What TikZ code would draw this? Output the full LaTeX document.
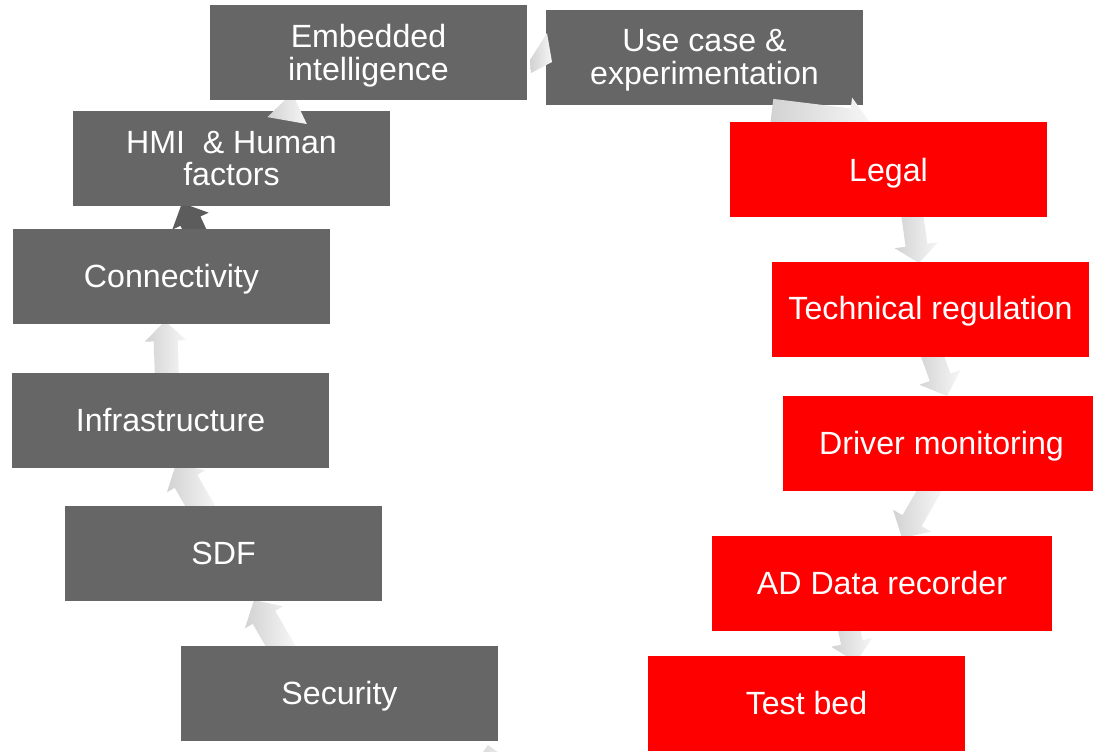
\documentclass[tikz,border=0pt]{standalone}
\usepackage{fontspec}
\setmainfont{Liberation Sans}
\definecolor{boxgray}{HTML}{666666}
\definecolor{arrowlight}{HTML}{F6F6F6}
\definecolor{arrowdark}{HTML}{D2D2D2}
\definecolor{arrowshadow}{HTML}{5C5C5C}
\tikzset{
  pics/barrow/.style n args={4}{code={
    \shade[arrowfill] (0,0) -- (-#4,#2/2) -- (-#4,#3/2) -- (-#1,#3/2) -- (-#1,-#3/2) -- (-#4,-#3/2) -- (-#4,-#2/2) -- cycle;
  }},
  pics/darrow/.style n args={4}{code={
    \fill[arrowshadow] (0,0) -- (-#4,#2/2) -- (-#4,#3/2) -- (-#1,#3/2) -- (-#1,-#3/2) -- (-#4,-#3/2) -- (-#4,-#2/2) -- cycle;
  }}
}
\begin{document}
\begin{tikzpicture}[x=0.75pt,y=-0.75pt,
  box/.style={minimum width=237.75pt, minimum height=71.25pt, inner sep=0pt},
  graybox/.style={box, fill=boxgray},
  redbox/.style={box, fill=red},
  lbl/.style={inner sep=0pt, text=white, font=\fontsize{24.1}{24.6}\selectfont, align=center},
  arrowfill/.style={left color=arrowdark, right color=arrowlight}]
\useasboundingbox (0,0) rectangle (1093,751);
\clip (0,0) rectangle (1093,751);

% arrows lying behind the boxes
\pic[rotate=120] (a1) at (254,600) {barrow={60}{44}{26}{20}};
\pic[rotate=120] (a2) at (176,464) {barrow={60}{44}{26}{20}};
\pic[rotate=92] (a3) at (165,321) {barrow={60}{42}{24}{20}};
\pic[rotate=115] (a4) at (182,203) {darrow={60}{40}{22}{20}};
\pic[rotate=-82] (a8) at (919,263) {barrow={60}{44}{22}{18}};
\pic[rotate=-70] (a9) at (947,396) {barrow={60}{44}{22}{20}};
\pic[rotate=-120] (a10) at (902,538) {barrow={60}{44}{22}{20}};
\pic[rotate=-78] (a11) at (856,662) {barrow={60}{42}{22}{20}};
\pic[rotate=100] (a12) at (488,745) {barrow={60}{40}{22}{20}};

\node[graybox] (use) at (704.5,57.5) {};
\pic[rotate=-7] (a7) at (871,124) {barrow={100}{48}{26}{22}};

\node[graybox] (hmi) at (231.5,158.5) {};
\pic[rotate=80] (a5) at (292,93) {barrow={28}{40}{22}{28}};

\node[graybox] (emb) at (368.5,52.5) {};
\node[graybox] (con) at (171.5,276.5) {};
\node[graybox] (inf) at (170.5,420.5) {};
\node[graybox] (sdf) at (223.5,553.5) {};
\node[graybox] (sec) at (339.5,693.5) {};

\node[redbox] (leg) at (888.5,169.5) {};
\node[redbox] (tec) at (930.5,309.5) {};
\node[redbox] (drv) at (941.5,443.5) {};
\node[redbox, minimum width=255pt] (adr) at (882,583.5) {};
\node[redbox] (tst) at (806.5,703.5) {};

% texts
\node[lbl, yshift=-2.25pt] (embt) at (emb) {Embedded\\intelligence};
\node[lbl, yshift=-2.25pt] (uset) at (use) {Use case \&\\experimentation};
\node[lbl] (hmit) at (hmi) {HMI\ \ \& Human\\factors};
\node[lbl, yshift=-2.25pt] (cont) at (con) {Connectivity};
\node[lbl] (inft) at (inf) {Infrastructure};
\node[lbl] (sdft) at (sdf) {SDF};
\node[lbl, yshift=-2.25pt] (sect) at (sec) {Security};
\node[lbl, yshift=-3pt] (legt) at (leg) {Legal};
\node[lbl, yshift=-1.5pt] (tect) at (tec) {Technical regulation};
\node[lbl, yshift=-2.25pt] (drvt) at (drv) {Driver monitoring};
\node[lbl] (adrt) at (adr) {AD Data recorder};
\node[lbl] (tstt) at (tst) {Test bed};

% arrow between the two top boxes
\shade[arrowfill] (547,33) -- (552,62) -- (531,73) -- (530,60) -- cycle;
\end{tikzpicture}
\end{document}
